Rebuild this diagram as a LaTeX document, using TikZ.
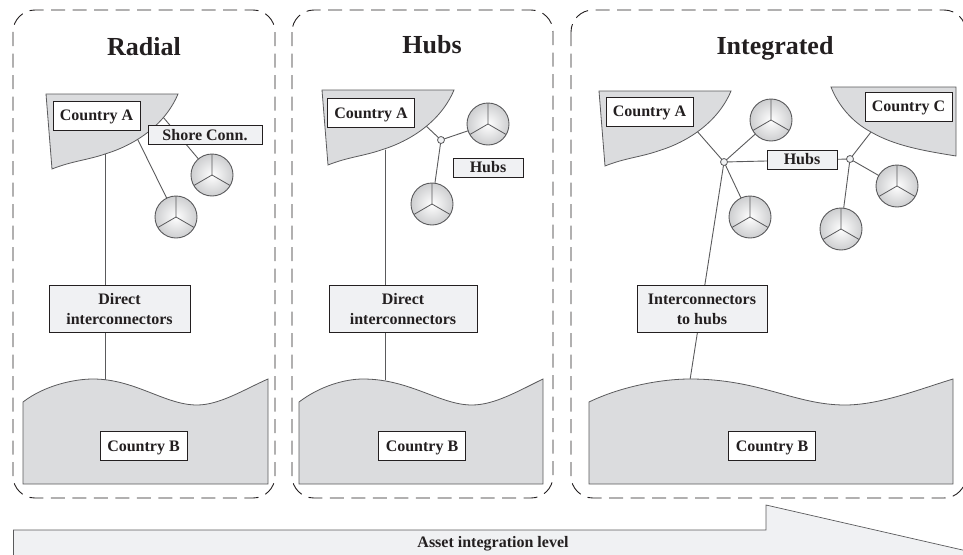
\documentclass[tikz,border=0pt]{standalone}
\usepackage{fontspec}
\setmainfont{Liberation Serif}
\usepackage{tkz-euclide}
\usetikzlibrary{calc}
\usetikzlibrary{backgrounds}
\definecolor{landgray}{HTML}{DBDCDE}
\definecolor{boxgray}{HTML}{F0F1F3}
\definecolor{linegray}{HTML}{5A5A5C}
\definecolor{inkgray}{HTML}{231F20}
\tikzset{
    land/.style={draw=linegray,fill=landgray,line width=0.8pt},
    panel/.style={draw=inkgray,line width=0.9pt,rounded corners=22pt,dash pattern=on 14pt off 7.5pt},
    link/.style={draw=linegray,line width=0.9pt},
    namebox/.style={draw=inkgray,fill=white,line width=0.9pt,inner sep=0pt,minimum width=87pt,minimum height=29pt,text depth=0pt,font=\fontsize{16}{20}\selectfont\bfseries,text=inkgray},
    tagbox/.style={draw=inkgray,fill=boxgray,line width=0.9pt,inner sep=0pt,minimum height=19pt,font=\fontsize{16}{20}\selectfont\bfseries,text=inkgray,align=center},
    wordbox/.style={tagbox,minimum height=47pt},
    paneltitle/.style={inner sep=0pt,font=\fontsize{26}{30}\selectfont\bfseries,text=inkgray},
    hubdot/.style={circle,draw=linegray,fill=boxgray,line width=0.8pt,inner sep=0pt,minimum size=7pt},
    turbine/.style={circle,draw=linegray,line width=0.9pt,inner sep=0pt,minimum size=42pt,inner color=white,outer color=landgray!85!gray,
        path picture={
            \draw[linegray,line width=0.8pt] (path picture bounding box.center) -- +(0,-22)
                (path picture bounding box.center) -- +(-19,11)
                (path picture bounding box.center) -- +(19,11);
        }},
}
\newcommand{\countrya}[2]{
    \draw[land,shift={(#1,#2)}] (46,94) -- (178,94)
        .. controls (165,125) and (135,145) .. (105,154)
        .. controls (88,160) and (72,161) .. (52,169) -- cycle;
}
\begin{document}
\begin{tikzpicture}[x=1pt,y=-1pt]
    \clip (0,0) rectangle (963,554);

    \draw[panel] (13,10) rectangle (275,498);
    \draw[panel] (292,10) rectangle (553,498);
    \draw[panel] (571,10) rectangle (966,498);

    \node[paneltitle] (RadialTitle) at (144,47) {Radial};
    \node[paneltitle] (HubsTitle) at (432,45) {Hubs};
    \node[paneltitle] (IntTitle) at (775,48) {Integrated};

    \countrya{0}{0}
    \countrya{276}{-4}
    \countrya{553}{-3}
    \draw[land] (956,87) -- (956,156)
        .. controls (925,151) and (895,146) .. (871,132)
        .. controls (852,122) and (838,105) .. (831,87) -- cycle;

    \draw[land] (23,402) .. controls (45,385) and (75,379) .. (93,379)
        .. controls (135,379) and (165,405) .. (197,405)
        .. controls (220,405) and (245,389) .. (268,379) -- (268,484) -- (23,484) -- cycle;
    \draw[land] (299,402) .. controls (320,386) and (345,379) .. (363,379)
        .. controls (410,379) and (440,405) .. (472,405)
        .. controls (495,405) and (520,390) .. (543,379) -- (543,484) -- (299,484) -- cycle;
    \draw[land] (589,402) .. controls (620,387) and (660,379) .. (690,379)
        .. controls (760,379) and (795,405) .. (845,405)
        .. controls (880,405) and (920,389) .. (953,379) -- (953,484) -- (589,484) -- cycle;

    \draw[draw=linegray,fill=boxgray,line width=0.7pt] (13.5,560) -- (13.5,530) -- (766,530) -- (766,505) -- (980,554) -- (980,560) -- cycle;
    \node[inner sep=0pt,font=\fontsize{16}{20}\selectfont\bfseries,text=inkgray] (Level) at (493,544) {Asset integration level};

    \node[namebox] (AOne) at (96.5,115.5) {Country A};
    \node[namebox] (ATwo) at (371,113) {Country A};
    \node[namebox] (AThree) at (649.5,111.5) {Country A};
    \node[namebox] (CThree) at (908.5,106.5) {Country C};
    \node[namebox] (BOne) at (143.5,446) {Country B};
    \node[namebox] (BTwo) at (422,446) {Country B};
    \node[namebox] (BThree) at (772,446) {Country B};

    \node[tagbox,minimum width=114pt] (Shore) at (205,135) {Shore Conn.};
    \node[tagbox,minimum width=70pt] (HubsTwo) at (488,167.5) {Hubs};
    \node[tagbox,minimum width=70pt] (HubsThree) at (802,159.5) {Hubs};
    \node[wordbox,minimum width=141pt] (DirectOne) at (119.5,308.5) {\rule{0pt}{13pt}Direct\\interconnectors};
    \node[wordbox,minimum width=148pt] (DirectTwo) at (403,308.5) {\rule{0pt}{13pt}Direct\\interconnectors};
    \node[wordbox,minimum width=130pt] (ToHubs) at (702,308.5) {\rule{0pt}{13pt}Interconnectors\\to hubs};

    \node[turbine] (TOneA) at (212,175) {};
    \node[turbine] (TOneB) at (176,217) {};
    \node[turbine] (TTwoA) at (488,124) {};
    \node[turbine] (TTwoB) at (432,204) {};
    \node[turbine] (TThreeA) at (771,120) {};
    \node[turbine] (TThreeB) at (750,217) {};
    \node[turbine] (TThreeC) at (897,186) {};
    \node[turbine] (TThreeD) at (841,229) {};

    \node[hubdot] (HubTwo) at (441,140) {};
    \node[hubdot] (HubThreeA) at (724,162) {};
    \node[hubdot] (HubThreeB) at (850,159) {};

    \tkzDefPoint(163,117){SA}
    \tkzDefPoint(137,138){SB}
    \tkzDefPoint(105,154){SC}
    \tkzDefPoint(105,380){SD}
    \tkzDefPoint(425,125){SE}
    \tkzDefPoint(385,150){SF}
    \tkzDefPoint(385,380){SG}
    \tkzDefPoint(696,130){SH}
    \tkzDefPoint(690,380){SI}
    \tkzDefPoint(871,132){SJ}

    \begin{pgfonlayer}{background}
        \tkzDrawSegment[link](SA,TOneA)
        \tkzDrawSegment[link](SB,TOneB)
        \tkzDrawSegment[link](SC,SD)
        \tkzDrawSegment[link](SE,HubTwo)
        \tkzDrawSegment[link](HubTwo,TTwoA)
        \tkzDrawSegment[link](HubTwo,TTwoB)
        \tkzDrawSegment[link](SF,SG)
        \tkzDrawSegment[link](SH,HubThreeA)
        \tkzDrawSegment[link](HubThreeA,TThreeA)
        \tkzDrawSegment[link](HubThreeA,TThreeB)
        \tkzDrawSegment[link](HubThreeA,HubThreeB)
        \tkzDrawSegment[link](HubThreeA,SI)
        \tkzDrawSegment[link](SJ,HubThreeB)
        \tkzDrawSegment[link](HubThreeB,TThreeC)
        \tkzDrawSegment[link](HubThreeB,TThreeD)
    \end{pgfonlayer}
\end{tikzpicture}
\end{document}
